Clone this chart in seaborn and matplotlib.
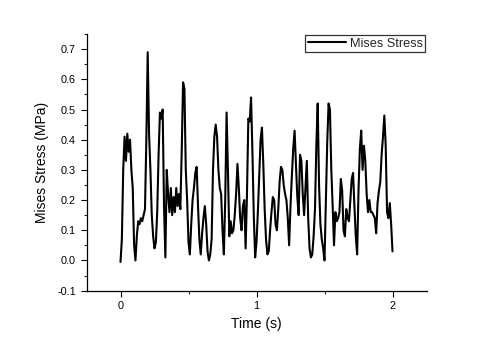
import numpy as np
import pandas as pd
import matplotlib
matplotlib.use("Agg")
import matplotlib.pyplot as plt
from matplotlib.ticker import MultipleLocator
import seaborn as sns

stress = [
    -0.005, 0.07, 0.30, 0.41, 0.33, 0.42, 0.36, 0.40, 0.30, 0.24,
    0.05, 0.00, 0.08, 0.13, 0.12, 0.14, 0.13, 0.15, 0.17, 0.40,
    0.69, 0.42, 0.30, 0.15, 0.08, 0.04, 0.06, 0.16, 0.35, 0.49,
    0.47, 0.50, 0.18, 0.01, 0.30, 0.22, 0.16, 0.24, 0.15, 0.21,
    0.16, 0.24, 0.18, 0.22, 0.17, 0.36, 0.59, 0.57, 0.30, 0.20,
    0.06, 0.02, 0.12, 0.20, 0.24, 0.29, 0.31, 0.18, 0.07, 0.02,
    0.09, 0.14, 0.18, 0.12, 0.03, 0.00, 0.02, 0.07, 0.30, 0.41,
    0.45, 0.41, 0.30, 0.24, 0.22, 0.10, 0.02, 0.20, 0.49, 0.30,
    0.08, 0.13, 0.09, 0.10, 0.15, 0.22, 0.32, 0.24, 0.14, 0.10,
    0.18, 0.20, 0.04, 0.22, 0.47, 0.46, 0.54, 0.36, 0.15, 0.01,
    0.06, 0.16, 0.28, 0.40, 0.44, 0.32, 0.17, 0.07, 0.02, 0.03,
    0.10, 0.16, 0.21, 0.20, 0.12, 0.10, 0.17, 0.26, 0.31, 0.30,
    0.25, 0.22, 0.20, 0.14, 0.05, 0.18, 0.28, 0.37, 0.43, 0.32,
    0.21, 0.15, 0.35, 0.33, 0.22, 0.15, 0.24, 0.33, 0.14, 0.04,
    0.01, 0.02, 0.08, 0.17, 0.38, 0.52, 0.25, 0.12, 0.07, 0.04,
    0.00, 0.20, 0.39, 0.52, 0.50, 0.30, 0.18, 0.05, 0.16, 0.13,
    0.14, 0.16, 0.27, 0.23, 0.10, 0.08, 0.17, 0.14, 0.13, 0.20,
    0.27, 0.29, 0.18, 0.08, 0.02, 0.23, 0.37, 0.43, 0.30, 0.38,
    0.33, 0.22, 0.16, 0.20, 0.16, 0.16, 0.15, 0.14, 0.09, 0.19,
    0.23, 0.26, 0.35, 0.41, 0.48, 0.38, 0.16, 0.14, 0.19, 0.12,
    0.03,
]
time = np.round(np.arange(len(stress)) * 0.01, 2)

df = pd.DataFrame({"Time (s)": time, "Mises Stress (MPa)": stress})

sns.set_theme(style="ticks")
plt.rcParams["font.family"] = ["Liberation Sans", "DejaVu Sans"]

fig = plt.figure(figsize=(5.0, 3.51), dpi=100)
ax = fig.add_axes([0.173, 0.172, 0.68, 0.731])

sns.lineplot(data=df, x="Time (s)", y="Mises Stress (MPa)", color="black",
             linewidth=1.5, label="Mises Stress", ax=ax)

ax.set_xlim(-0.25, 2.25)
ax.set_ylim(-0.1, 0.75)
ax.xaxis.set_major_locator(MultipleLocator(1))
ax.xaxis.set_minor_locator(MultipleLocator(0.5))
ax.yaxis.set_major_locator(MultipleLocator(0.1))
ax.yaxis.set_minor_locator(MultipleLocator(0.05))
ax.set_xticklabels([f"{v:g}" for v in ax.get_xticks()])
ax.yaxis.set_major_formatter(matplotlib.ticker.FormatStrFormatter("%.1f"))

ax.tick_params(which="major", direction="out", length=4, width=0.8,
               labelsize=7.8, colors="black")
ax.tick_params(which="minor", direction="out", length=2, width=0.8)
for side in ("top", "right"):
    ax.spines[side].set_visible(False)
for side in ("left", "bottom"):
    ax.spines[side].set_color("black")
    ax.spines[side].set_linewidth(0.9)

ax.set_xlabel("Time (s)", fontsize=10, color="black")
ax.set_ylabel("Mises Stress (MPa)", fontsize=10, color="black", labelpad=6)

leg = ax.legend(loc="upper right", bbox_to_anchor=(1.0, 1.0), fontsize=9.2,
                frameon=True, fancybox=False, borderaxespad=0.1,
                handlelength=3.0, borderpad=0.2, handletextpad=0.3)
leg.get_frame().set_edgecolor("black")
leg.get_frame().set_linewidth(0.9)

fig.savefig("out.png", dpi=100)
